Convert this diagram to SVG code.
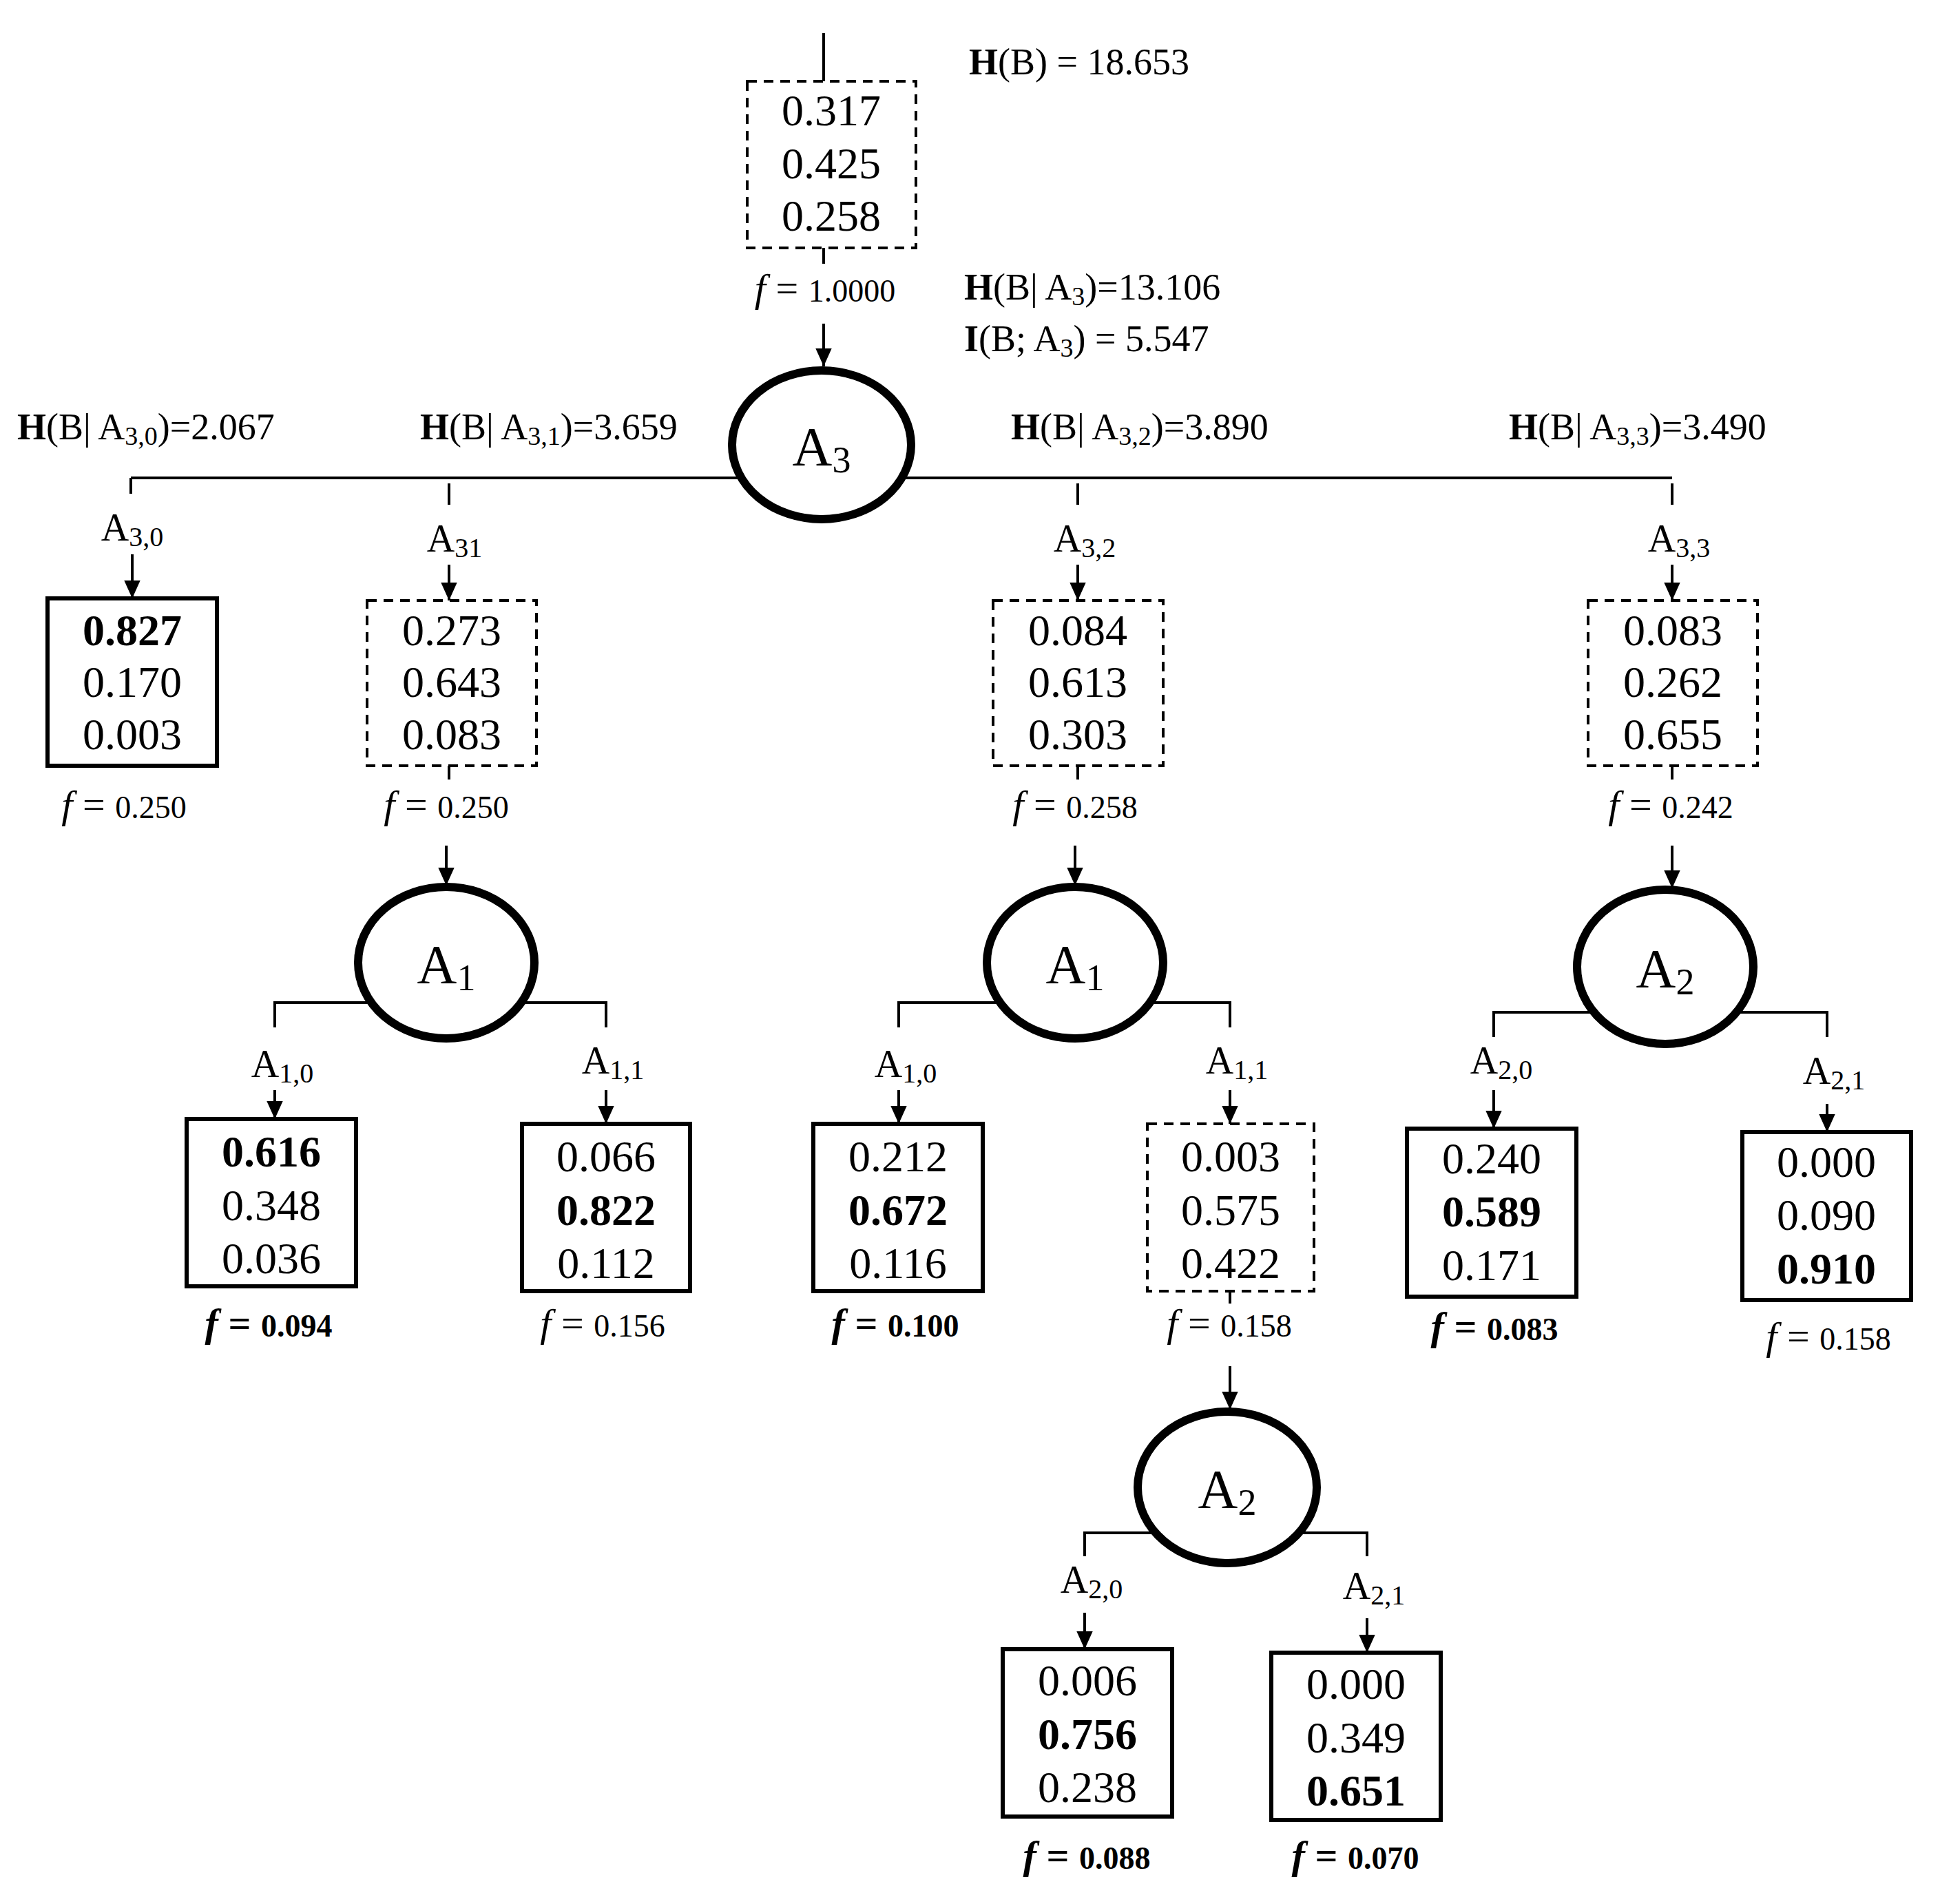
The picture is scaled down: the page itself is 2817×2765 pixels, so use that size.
<svg xmlns="http://www.w3.org/2000/svg" width="2817" height="2765" viewBox="0 0 2817 2765">
<style>
text{font-family:"Liberation Serif","Times New Roman",serif;fill:#000}
.v{font-size:64px;text-anchor:middle}
.b{font-weight:bold}
.box{fill:none;stroke:#000;stroke-width:6}
.dbox{fill:none;stroke:#000;stroke-width:4;stroke-dasharray:14 10}
.ell{fill:#fff;stroke:#000;stroke-width:12}
.ln{fill:none;stroke:#000;stroke-width:4}
.arr{fill:none;stroke:#000;stroke-width:4;marker-end:url(#ah)}
.h{font-size:54px}
.lab{font-size:56px;text-anchor:middle}
.f{font-size:58px;text-anchor:middle}
.big{font-size:80px;text-anchor:middle}
</style>
<defs>
<marker id="ah" viewBox="0 0 10 10" refX="10" refY="5" markerWidth="30" markerHeight="26" markerUnits="userSpaceOnUse" orient="auto"><path d="M0,0.5 L10,5 L0,9.5 z" fill="#000"/></marker>
</defs>
<g id="connectors">
<line class="ln" x1="1196" y1="48" x2="1196" y2="118"/>
<line class="ln" x1="1196" y1="360" x2="1196" y2="383"/>
<line class="arr" x1="1196" y1="470" x2="1196" y2="532"/>
<line class="ln" x1="190" y1="694" x2="2428" y2="694"/>
<line class="ln" x1="190" y1="694" x2="190" y2="717"/>
<line class="ln" x1="652" y1="702" x2="652" y2="733"/>
<line class="ln" x1="1565" y1="702" x2="1565" y2="733"/>
<line class="ln" x1="2428" y1="702" x2="2428" y2="733"/>
<line class="arr" x1="192" y1="805" x2="192" y2="869"/>
<line class="arr" x1="652" y1="820" x2="652" y2="872"/>
<line class="arr" x1="1565" y1="820" x2="1565" y2="872"/>
<line class="arr" x1="2428" y1="820" x2="2428" y2="872"/>
<line class="ln" x1="652" y1="1112" x2="652" y2="1132"/>
<line class="ln" x1="1565" y1="1112" x2="1565" y2="1132"/>
<line class="ln" x1="2428" y1="1112" x2="2428" y2="1132"/>
<line class="arr" x1="648" y1="1228" x2="648" y2="1286"/>
<line class="arr" x1="1561" y1="1228" x2="1561" y2="1286"/>
<line class="arr" x1="2428" y1="1228" x2="2428" y2="1290"/>
<polyline class="ln" points="399,1492 399,1456 880,1456 880,1492"/>
<polyline class="ln" points="1305,1492 1305,1456 1786,1456 1786,1492"/>
<polyline class="ln" points="2169,1506 2169,1470 2653,1470 2653,1506"/>
<line class="arr" x1="399" y1="1583" x2="399" y2="1625"/>
<line class="arr" x1="880" y1="1583" x2="880" y2="1632"/>
<line class="arr" x1="1305" y1="1583" x2="1305" y2="1632"/>
<line class="arr" x1="1786" y1="1583" x2="1786" y2="1632"/>
<line class="arr" x1="2169" y1="1583" x2="2169" y2="1639"/>
<line class="arr" x1="2653" y1="1603" x2="2653" y2="1644"/>
<line class="ln" x1="1786" y1="1875" x2="1786" y2="1893"/>
<line class="arr" x1="1786" y1="1984" x2="1786" y2="2047"/>
<polyline class="ln" points="1575,2260 1575,2226 1985,2226 1985,2260"/>
<line class="arr" x1="1575" y1="2342" x2="1575" y2="2395"/>
<line class="arr" x1="1985" y1="2350" x2="1985" y2="2400"/>
</g>
<g id="labels">
<text class="h" x="1407" y="108"><tspan class="b">H</tspan>(B) = 18.653</text>
<text class="h" x="1400" y="435"><tspan class="b">H</tspan>(B| A<tspan font-size="38" dy="8">3</tspan><tspan dy="-8">)=13.106</tspan></text>
<text class="h" x="1400" y="510"><tspan class="b">I</tspan>(B; A<tspan font-size="38" dy="8">3</tspan><tspan dy="-8">) =  5.547</tspan></text>
<text class="h" x="25" y="638"><tspan class="b">H</tspan>(B| A<tspan font-size="38" dy="8">3,0</tspan><tspan dy="-8">)=2.067</tspan></text>
<text class="h" x="610" y="638"><tspan class="b">H</tspan>(B| A<tspan font-size="38" dy="8">3,1</tspan><tspan dy="-8">)=3.659</tspan></text>
<text class="h" x="1468" y="638"><tspan class="b">H</tspan>(B| A<tspan font-size="38" dy="8">3,2</tspan><tspan dy="-8">)=3.890</tspan></text>
<text class="h" x="2191" y="638"><tspan class="b">H</tspan>(B| A<tspan font-size="38" dy="8">3,3</tspan><tspan dy="-8">)=3.490</tspan></text>
<text class="lab" x="192" y="785">A<tspan font-size="40" dy="8">3,0</tspan></text>
<text class="lab" x="660" y="801">A<tspan font-size="40" dy="8">31</tspan></text>
<text class="lab" x="1575" y="801">A<tspan font-size="40" dy="8">3,2</tspan></text>
<text class="lab" x="2438" y="801">A<tspan font-size="40" dy="8">3,3</tspan></text>
<text class="lab" x="410" y="1564">A<tspan font-size="40" dy="8">1,0</tspan></text>
<text class="lab" x="890" y="1559">A<tspan font-size="40" dy="8">1,1</tspan></text>
<text class="lab" x="1315" y="1564">A<tspan font-size="40" dy="8">1,0</tspan></text>
<text class="lab" x="1796" y="1559">A<tspan font-size="40" dy="8">1,1</tspan></text>
<text class="lab" x="2180" y="1559">A<tspan font-size="40" dy="8">2,0</tspan></text>
<text class="lab" x="2663" y="1574">A<tspan font-size="40" dy="8">2,1</tspan></text>
<text class="lab" x="1585" y="2313">A<tspan font-size="40" dy="8">2,0</tspan></text>
<text class="lab" x="1995" y="2322">A<tspan font-size="40" dy="8">2,1</tspan></text>
</g>
<g id="root">
<rect class="dbox" x="1085" y="118" width="245" height="242"/>
<text class="v" x="1207" y="182">0.317</text><text class="v" x="1207" y="259">0.425</text><text class="v" x="1207" y="335">0.258</text>
<text class="f" x="1198" y="438"><tspan font-style="italic">f</tspan> = <tspan font-size="46">1.0000</tspan></text>
</g>
<g id="nA3"><ellipse class="ell" cx="1193" cy="646" rx="130" ry="108"/><text class="big" x="1193" y="676">A<tspan font-size="54" dy="10">3</tspan></text></g>
<g id="b30">
<rect class="box" x="69" y="869" width="246" height="243"/>
<text class="v b" x="192" y="937">0.827</text><text class="v" x="192" y="1012">0.170</text><text class="v" x="192" y="1088">0.003</text>
<text class="f" x="180" y="1188"><tspan font-style="italic">f</tspan> = <tspan font-size="46">0.250</tspan></text>
</g>
<g id="b31">
<rect class="dbox" x="533" y="872" width="246" height="240"/>
<text class="v" x="656" y="937">0.273</text><text class="v" x="656" y="1012">0.643</text><text class="v" x="656" y="1088">0.083</text>
<text class="f" x="648" y="1188"><tspan font-style="italic">f</tspan> = <tspan font-size="46">0.250</tspan></text>
</g>
<g id="b32">
<rect class="dbox" x="1442" y="872" width="247" height="240"/>
<text class="v" x="1565" y="937">0.084</text><text class="v" x="1565" y="1012">0.613</text><text class="v" x="1565" y="1088">0.303</text>
<text class="f" x="1561" y="1188"><tspan font-style="italic">f</tspan> = <tspan font-size="46">0.258</tspan></text>
</g>
<g id="b33">
<rect class="dbox" x="2306" y="872" width="246" height="240"/>
<text class="v" x="2429" y="937">0.083</text><text class="v" x="2429" y="1012">0.262</text><text class="v" x="2429" y="1088">0.655</text>
<text class="f" x="2426" y="1188"><tspan font-style="italic">f</tspan> = <tspan font-size="46">0.242</tspan></text>
</g>
<g id="nA1a"><ellipse class="ell" cx="648" cy="1398" rx="128" ry="110"/><text class="big" x="648" y="1428">A<tspan font-size="54" dy="10">1</tspan></text></g>
<g id="nA1b"><ellipse class="ell" cx="1561" cy="1398" rx="128" ry="110"/><text class="big" x="1561" y="1428">A<tspan font-size="54" dy="10">1</tspan></text></g>
<g id="nA2a"><ellipse class="ell" cx="2418" cy="1404" rx="128" ry="112"/><text class="big" x="2418" y="1434">A<tspan font-size="54" dy="10">2</tspan></text></g>
<g id="b10a">
<rect class="box" x="271" y="1625" width="246" height="243"/>
<text class="v b" x="394" y="1694">0.616</text><text class="v" x="394" y="1772">0.348</text><text class="v" x="394" y="1849">0.036</text>
<text class="f b" x="390" y="1941"><tspan font-style="italic">f</tspan> = <tspan font-size="46">0.094</tspan></text>
</g>
<g id="b11a">
<rect class="box" x="758" y="1632" width="244" height="243"/>
<text class="v" x="880" y="1701">0.066</text><text class="v b" x="880" y="1779">0.822</text><text class="v" x="880" y="1856">0.112</text>
<text class="f" x="875" y="1941"><tspan font-style="italic">f</tspan> = <tspan font-size="46">0.156</tspan></text>
</g>
<g id="b10b">
<rect class="box" x="1181" y="1632" width="246" height="243"/>
<text class="v" x="1304" y="1701">0.212</text><text class="v b" x="1304" y="1779">0.672</text><text class="v" x="1304" y="1856">0.116</text>
<text class="f b" x="1300" y="1941"><tspan font-style="italic">f</tspan> = <tspan font-size="46">0.100</tspan></text>
</g>
<g id="b11b">
<rect class="dbox" x="1666" y="1632" width="242" height="243"/>
<text class="v" x="1787" y="1701">0.003</text><text class="v" x="1787" y="1779">0.575</text><text class="v" x="1787" y="1856">0.422</text>
<text class="f" x="1785" y="1941"><tspan font-style="italic">f</tspan> = <tspan font-size="46">0.158</tspan></text>
</g>
<g id="b20a">
<rect class="box" x="2043" y="1639" width="246" height="244"/>
<text class="v" x="2166" y="1704">0.240</text><text class="v b" x="2166" y="1781">0.589</text><text class="v" x="2166" y="1859">0.171</text>
<text class="f b" x="2170" y="1946"><tspan font-style="italic">f</tspan> = <tspan font-size="46">0.083</tspan></text>
</g>
<g id="b21a">
<rect class="box" x="2530" y="1644" width="245" height="244"/>
<text class="v" x="2652" y="1709">0.000</text><text class="v" x="2652" y="1786">0.090</text><text class="v b" x="2652" y="1864">0.910</text>
<text class="f" x="2655" y="1960"><tspan font-style="italic">f</tspan> = <tspan font-size="46">0.158</tspan></text>
</g>
<g id="nA2b"><ellipse class="ell" cx="1782" cy="2160" rx="130" ry="110"/><text class="big" x="1782" y="2190">A<tspan font-size="54" dy="10">2</tspan></text></g>
<g id="b20b">
<rect class="box" x="1456" y="2395" width="246" height="243"/>
<text class="v" x="1579" y="2462">0.006</text><text class="v b" x="1579" y="2540">0.756</text><text class="v" x="1579" y="2617">0.238</text>
<text class="f b" x="1578" y="2714"><tspan font-style="italic">f</tspan> = <tspan font-size="46">0.088</tspan></text>
</g>
<g id="b21b">
<rect class="box" x="1846" y="2400" width="246" height="243"/>
<text class="v" x="1969" y="2467">0.000</text><text class="v" x="1969" y="2545">0.349</text><text class="v b" x="1969" y="2622">0.651</text>
<text class="f b" x="1968" y="2714"><tspan font-style="italic">f</tspan> = <tspan font-size="46">0.070</tspan></text>
</g>
</svg>
